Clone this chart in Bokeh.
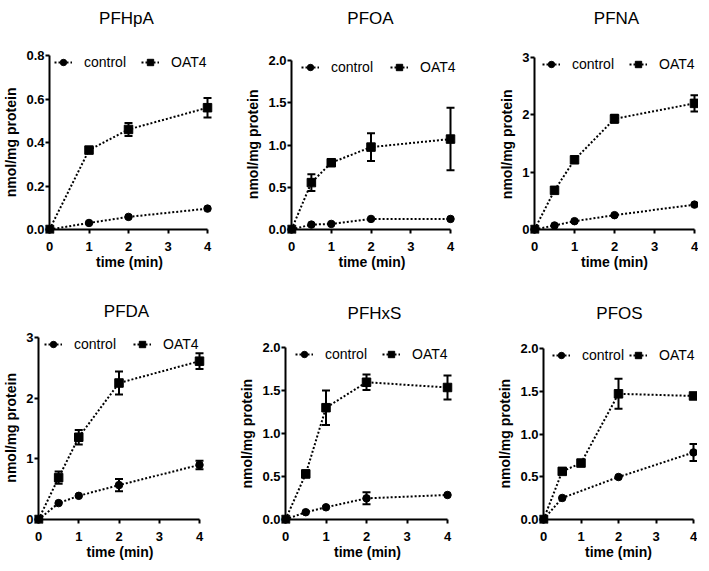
from bokeh.plotting import figure
from bokeh.layouts import column, row
from bokeh.models import (FixedTicker, PrintfTickFormatter, Whisker, ColumnDataSource,
                          Legend, LegendItem, Range1d, TeeHead, Label)
from bokeh.embed import file_html
from bokeh.resources import INLINE

FONT = "Liberation Sans"

# ---- data ----
x_ticks = [0, 1, 2, 3, 4]

pfhpa_t_ctrl = [0, 1, 2, 4]
pfhpa_ctrl = [0, 0.030, 0.058, 0.096]
pfhpa_ctrl_err = [0, 0, 0, 0]
pfhpa_t_oat4 = [0, 1, 2, 4]
pfhpa_oat4 = [0, 0.365, 0.46, 0.56]
pfhpa_oat4_err = [0, 0, 0.03, 0.045]

pfoa_t_ctrl = [0, 0.5, 1, 2, 4]
pfoa_ctrl = [0, 0.058, 0.066, 0.125, 0.125]
pfoa_ctrl_err = [0, 0, 0, 0, 0]
pfoa_t_oat4 = [0, 0.5, 1, 2, 4]
pfoa_oat4 = [0, 0.555, 0.79, 0.975, 1.07]
pfoa_oat4_err = [0, 0.10, 0.035, 0.165, 0.37]

pfna_t_ctrl = [0, 0.5, 1, 2, 4]
pfna_ctrl = [0, 0.07, 0.145, 0.25, 0.434]
pfna_ctrl_err = [0, 0, 0, 0, 0]
pfna_t_oat4 = [0, 0.5, 1, 2, 4]
pfna_oat4 = [0, 0.683, 1.216, 1.93, 2.2]
pfna_oat4_err = [0, 0, 0, 0.07, 0.14]

pfda_t_ctrl = [0, 0.5, 1, 2, 4]
pfda_ctrl = [0, 0.27, 0.39, 0.567, 0.9]
pfda_ctrl_err = [0, 0, 0, 0.1, 0.07]
pfda_t_oat4 = [0, 0.5, 1, 2, 4]
pfda_oat4 = [0, 0.69, 1.356, 2.25, 2.61]
pfda_oat4_err = [0, 0.1, 0.12, 0.19, 0.13]

pfhxs_t_ctrl = [0, 0.5, 1, 2, 4]
pfhxs_ctrl = [0, 0.085, 0.142, 0.246, 0.285]
pfhxs_ctrl_err = [0, 0, 0, 0.07, 0]
pfhxs_t_oat4 = [0, 0.5, 1, 2, 4]
pfhxs_oat4 = [0, 0.53, 1.3, 1.596, 1.535]
pfhxs_oat4_err = [0, 0.04, 0.2, 0.09, 0.14]

pfos_t_ctrl = [0, 0.5, 2, 4]
pfos_ctrl = [0, 0.252, 0.497, 0.784]
pfos_ctrl_err = [0, 0, 0, 0.1]
pfos_t_oat4 = [0, 0.5, 1, 2, 4]
pfos_oat4 = [0, 0.563, 0.66, 1.47, 1.445]
pfos_oat4_err = [0, 0.03, 0, 0.175, 0]


def add_err(p, t, v, e):
    xs = [a for a, b, c in zip(t, v, e) if c > 0]
    up = [b + c for a, b, c in zip(t, v, e) if c > 0]
    lo = [b - c for a, b, c in zip(t, v, e) if c > 0]
    if not xs:
        return
    src = ColumnDataSource(dict(x=xs, upper=up, lower=lo))
    w = Whisker(source=src, base="x", upper="upper", lower="lower",
                line_width=2, line_color="black",
                upper_head=TeeHead(size=8, line_width=2, line_color="black"),
                lower_head=TeeHead(size=8, line_width=2, line_color="black"))
    p.add_layout(w)


def panel(name, ct, cv, ce, ot, ov, oe, ymax, yticks, fmt, g):
    # g holds pixel geometry (page coordinates) of this panel
    lp, bp = 4, 4
    D = g["x4"] - g["ax"]             # px for 0..4
    H = g["y0"] - g["yt"]             # px for 0..ymax
    rp = g["rp"]
    fw = D + lp + rp
    ftop = g["ftop"]
    fbot = g["y0"] + bp
    fh = fbot - ftop
    xpu = 4 / D
    ypu = ymax / H
    p = figure(frame_width=fw, frame_height=fh,
               min_border_left=g["bl"], min_border_right=g["br"],
               min_border_top=ftop - g["figtop"], min_border_bottom=g["bb"],
               x_range=Range1d(-lp * xpu, 4 + rp * xpu),
               y_range=Range1d(-bp * ypu, ymax + (g["yt"] - ftop) * ypu),
               output_backend="svg", toolbar_location=None, tools="")
    p.outline_line_color = None
    p.xgrid.grid_line_color = None
    p.ygrid.grid_line_color = None

    for ax in (p.xaxis[0], p.yaxis[0]):
        ax.axis_line_color = None
        ax.major_tick_line_width = 2
        ax.major_tick_line_color = "black"
        ax.major_tick_out = 0
        ax.major_tick_in = 4
        ax.minor_tick_line_color = None
        ax.major_label_text_font = FONT
        ax.major_label_text_font_size = "13px"
        ax.major_label_text_font_style = "bold"
        ax.major_label_text_color = "black"
        ax.axis_label_text_font = FONT
        ax.axis_label_text_font_size = "14px"
        ax.axis_label_text_font_style = "bold"
        ax.axis_label_text_color = "black"
    p.xaxis.major_label_standoff = 8
    p.xaxis.axis_label_standoff = 0
    p.yaxis.major_label_standoff = 1
    p.yaxis.axis_label_standoff = 4
    p.xaxis.ticker = FixedTicker(ticks=x_ticks)
    p.yaxis.ticker = FixedTicker(ticks=yticks)
    p.yaxis.formatter = PrintfTickFormatter(format=fmt)
    p.xaxis.axis_label = "time (min)"
    # centre the y label on the 0..ymax span (frame reaches up to the title)
    shift = (g["yt"] + g["y0"]) / 2 - (ftop + fbot) / 2
    n = max(0, round(shift * 2 / 3.89))
    p.yaxis.axis_label = "nmol/mg protein" + "\u00a0" * n

    # axis lines starting at the origin
    p.segment(x0=[0, 0], y0=[0, 0], x1=[4, 0], y1=[0, ymax],
              line_color="black", line_width=2)

    add_err(p, ct, cv, ce)
    add_err(p, ot, ov, oe)

    l1 = p.line(ct, cv, line_color="black", line_width=2, line_dash="2 2")
    s1 = p.scatter(ct, cv, marker="circle", size=7.5, color="black")
    l2 = p.line(ot, ov, line_color="black", line_width=2, line_dash="2 2")
    s2 = p.scatter(ot, ov, marker="square", size=8.5, color="black")

    leg = Legend(items=[LegendItem(label="control", renderers=[l1, s1]),
                        LegendItem(label="OAT4", renderers=[l2, s2])],
                 orientation="horizontal",
                 location=(g["lgx"] - g["ax"] + lp, fbot - g["yt"] - 7 - 8),
                 glyph_width=18, glyph_height=16, label_height=16,
                 label_standoff=12, spacing=g["sp"], padding=0, margin=0,
                 border_line_color=None, background_fill_alpha=0,
                 label_text_font=FONT, label_text_font_size="14px",
                 label_text_color="black")
    p.add_layout(leg)

    title = Label(x=(g["tx"] - g["ax"]) * xpu, y=ymax + (g["yt"] - g["ty"]) * ypu,
                  text=name, text_align="center", text_baseline="middle",
                  text_font=FONT, text_font_size="17px", text_color="black")
    p.add_layout(title)
    return p


# pixel geometry (page coordinates)
g1 = dict(ax=51, x4=209, rp=6, bl=39, br=28, figtop=0, ftop=8, yt=55, y0=229, bb=52,
          lgx=56, sp=15, tx=128, ty=18)
g2 = dict(ax=293, x4=452, rp=6, bl=46, br=28, figtop=0, ftop=8, yt=60, y0=229, bb=52,
          lgx=303, sp=17, tx=372, ty=18)
g3 = dict(ax=536, x4=696, rp=4, bl=46, br=0, figtop=0, ftop=8, yt=57, y0=229, bb=52,
          lgx=544, sp=15, tx=618, ty=18)
g4 = dict(ax=41, x4=202, rp=6, bl=29, br=30, figtop=285, ftop=285, yt=337, y0=519, bb=40,
          lgx=47, sp=17, tx=129, ty=311)
g5 = dict(ax=288, x4=450, rp=6, bl=46, br=40, figtop=285, ftop=285, yt=347, y0=519, bb=40,
          lgx=298, sp=15, tx=377, ty=313)
g6 = dict(ax=546, x4=696, rp=4, bl=46, br=0, figtop=285, ftop=285, yt=348, y0=519, bb=40,
          lgx=555, sp=5, tx=622, ty=313)

p1 = panel("PFHpA", pfhpa_t_ctrl, pfhpa_ctrl, pfhpa_ctrl_err,
           pfhpa_t_oat4, pfhpa_oat4, pfhpa_oat4_err,
           0.8, [0, 0.2, 0.4, 0.6, 0.8], "%.1f", g1)
p2 = panel("PFOA", pfoa_t_ctrl, pfoa_ctrl, pfoa_ctrl_err,
           pfoa_t_oat4, pfoa_oat4, pfoa_oat4_err,
           2.0, [0, 0.5, 1.0, 1.5, 2.0], "%.1f", g2)
p3 = panel("PFNA", pfna_t_ctrl, pfna_ctrl, pfna_ctrl_err,
           pfna_t_oat4, pfna_oat4, pfna_oat4_err,
           3, [0, 1, 2, 3], "%d", g3)
p4 = panel("PFDA", pfda_t_ctrl, pfda_ctrl, pfda_ctrl_err,
           pfda_t_oat4, pfda_oat4, pfda_oat4_err,
           3, [0, 1, 2, 3], "%d", g4)
p5 = panel("PFHxS", pfhxs_t_ctrl, pfhxs_ctrl, pfhxs_ctrl_err,
           pfhxs_t_oat4, pfhxs_oat4, pfhxs_oat4_err,
           2.0, [0, 0.5, 1.0, 1.5, 2.0], "%.1f", g5)
p6 = panel("PFOS", pfos_t_ctrl, pfos_ctrl, pfos_ctrl_err,
           pfos_t_oat4, pfos_oat4, pfos_oat4_err,
           2.0, [0, 0.5, 1.0, 1.5, 2.0], "%.1f", g6)

layout = column(row(p1, p2, p3), row(p4, p5, p6))

open("out.html", "w").write(file_html(layout, INLINE))
